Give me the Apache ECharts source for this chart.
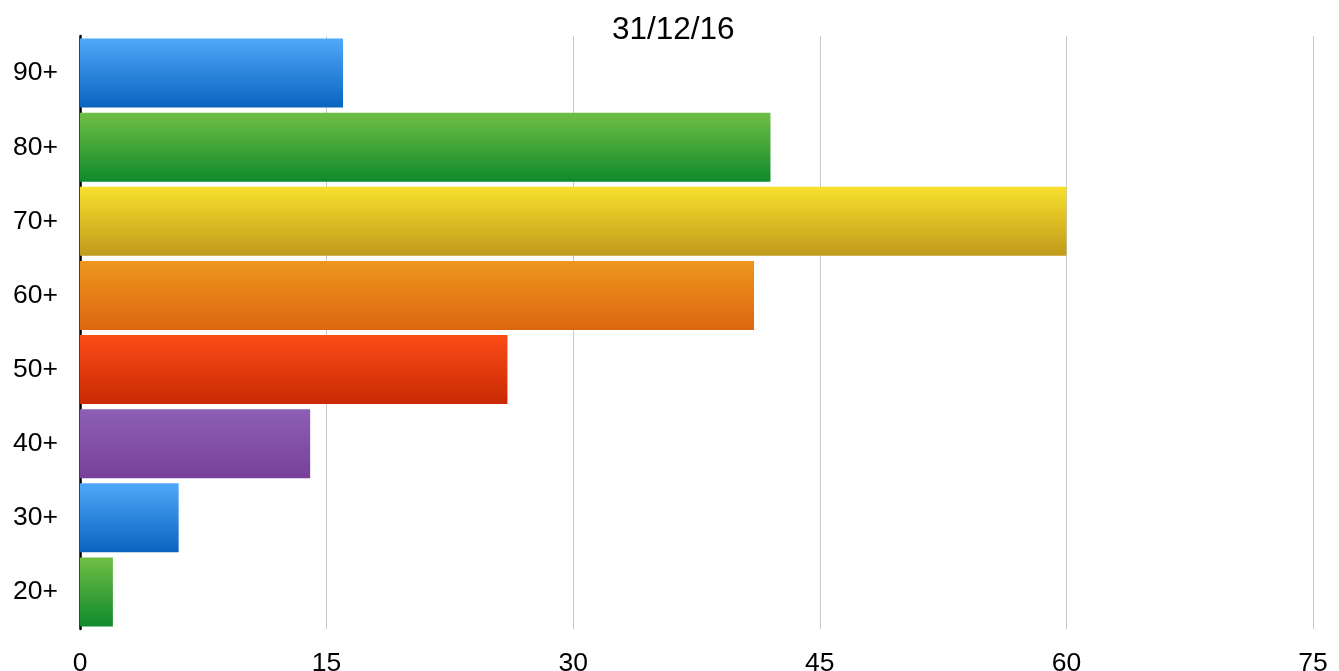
<!DOCTYPE html>
<html>
<head>
<meta charset="utf-8">
<script src="https://cdn.jsdelivr.net/npm/echarts@6/dist/echarts.min.js"></script>
<style>
html,body{margin:0;padding:0;background:#fff;}
#chart{width:1339px;height:671px;}
</style>
</head>
<body>
<div id="chart"></div>
<script>
const titleText = '31/12/16';
const categories = ['20+', '30+', '40+', '50+', '60+', '70+', '80+', '90+'];
const values = [2, 6, 14, 26, 41, 60, 42, 16];
const xTicks = [0, 15, 30, 45, 60, 75];
const colorsTop =    ['#70be44', '#4fa8f8', '#8c60b4', '#fc4c16', '#ee961e', '#f8e02c', '#70be44', '#4fa8f8'];
const colorsBottom = ['#108a2c', '#0a64c0', '#78409a', '#c82a04', '#dc6610', '#c09a1c', '#108a2c', '#0a64c0'];

const chart = echarts.init(document.getElementById('chart'), null, {renderer: 'canvas'});
const font = '"Liberation Sans", Arial, sans-serif';
chart.setOption({
  animation: false,
  backgroundColor: '#ffffff',
  title: {
    text: titleText,
    left: 607,
    top: 9,
    textStyle: {fontFamily: font, fontSize: 31.5, fontWeight: 'normal', color: '#000'}
  },
  grid: {left: 80, right: 26, top: 36, bottom: 42, containLabel: false, outerBoundsMode: 'none'},
  xAxis: {
    type: 'value',
    min: xTicks[0],
    max: xTicks[xTicks.length - 1],
    interval: xTicks[1] - xTicks[0],
    axisLine: {show: false},
    axisTick: {show: false},
    axisLabel: {fontFamily: font, fontSize: 26.5, color: '#000', margin: 21},
    splitLine: {show: true, lineStyle: {color: '#c8c8c8', width: 1}}
  },
  yAxis: {
    type: 'category',
    data: categories,
    axisLine: {show: true, lineStyle: {color: '#000', width: 2.5}},
    axisTick: {show: false},
    axisLabel: {fontFamily: font, fontSize: 26.5, color: '#000', margin: 22, padding: [4, 0, 0, 0]},
    splitLine: {show: false}
  },
  series: [{
    type: 'bar',
    barCategoryGap: '7%',
    data: values.map((v, i) => ({
      value: v,
      itemStyle: {
        color: new echarts.graphic.LinearGradient(0, 0, 0, 1, [
          {offset: 0, color: colorsTop[i]},
          {offset: 1, color: colorsBottom[i]}
        ])
      }
    }))
  }]
});
</script>
</body>
</html>
